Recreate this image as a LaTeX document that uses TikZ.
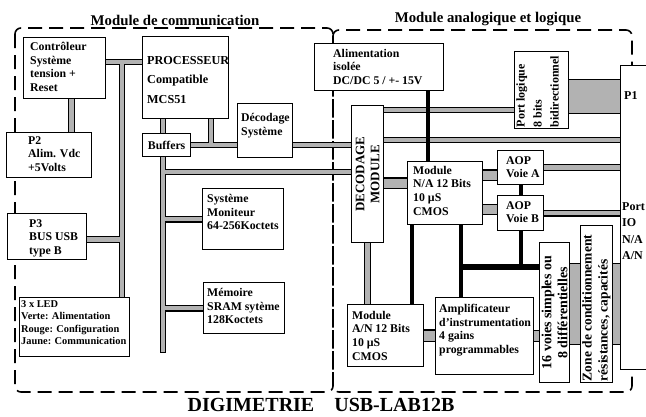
\documentclass[tikz,border=0pt]{standalone}
\usepackage{fontspec}
\setmainfont{Liberation Serif}
\usetikzlibrary{positioning,calc,backgrounds}

\newcommand{\bxfont}{\fontsize{11.8}{13.6}\selectfont\bfseries}
\newcommand{\procfont}{\fontsize{12.2}{19.5}\selectfont\bfseries}
\newcommand{\ledfont}{\fontsize{10.4}{12.5}\selectfont\bfseries}
\newcommand{\titlefont}{\fontsize{14.8}{16}\selectfont\bfseries}
\newcommand{\footfont}{\fontsize{20}{22}\selectfont\bfseries}

\begin{document}
\begin{tikzpicture}[
    x=1pt, y=-1pt,
    box/.style={draw, line width=1.3pt, fill=white, anchor=north west, inner sep=0pt, font=\bxfont},
    lbl/.style={anchor=north west, align=left, inner sep=0pt, font=\bxfont},
    txt/.style n args={3}{label={[lbl, xshift=#1, yshift=#2]north west:{#3}}},
    vtxt/.style={rotate=90, anchor=north west, align=left, inner sep=2pt},
    modframe/.style={line width=1.6pt, dash pattern=on 14pt off 7pt, rounded corners=6pt},
    bus/.style={double=gray!60, double distance=4.5pt, line width=1.2pt, line cap=rect},
    wide/.style={double=gray!60, double distance=#1, line width=1.2pt},
    pwr/.style={line width=4pt}
]
\useasboundingbox (0,0) rectangle (646,416);

% titres
\node[font=\titlefont, anchor=base] (tcom) at (175,25) {Module de communication};
\node[font=\titlefont, anchor=base] (tana) at (488,22) {Module analogique et logique};
\node[font=\footfont, anchor=base] (foot) at (321,411) {DIGIMETRIE\quad USB-LAB12B};

% module de communication
\node[box, minimum width=82pt, minimum height=61pt, txt={7pt}{-5pt}{Contrôleur\\Système\\tension +\\Reset}] (ctrl) at (23,37) {};
\node[box, minimum width=85pt, minimum height=45pt, txt={22pt}{-4pt}{P2\\Alim. Vdc\\+5Volts}] (p2) at (6,132) {};
\node[box, minimum width=86pt, minimum height=82pt,
      label={[lbl, font=\procfont, xshift=5pt, yshift=-20pt]north west:{PROCESSEUR\\Compatible\\MCS51}}] (proc) at (142,36) {};
\node[box, minimum width=48pt, minimum height=23pt] (buf) at (142,133) {Buffers};
\node[box, minimum width=55pt, minimum height=54pt, txt={4pt}{-10pt}{Décodage\\Système}] (dec) at (237,103) {};
\node[box, minimum width=81pt, minimum height=61pt, txt={5pt}{-6pt}{Système\\Moniteur\\64-256Koctets}] (mon) at (202,188) {};
\node[box, minimum width=81pt, minimum height=51pt, txt={4pt}{-6pt}{Mémoire\\SRAM sytème\\128Koctets}] (mem) at (203,282) {};
\node[box, minimum width=79pt, minimum height=46pt, txt={22pt}{-6pt}{P3\\BUS USB\\type B}] (p3) at (7,213) {};
\node[box, minimum width=110pt, minimum height=59pt,
      label={[lbl, font=\ledfont, xshift=2pt, yshift=-3pt]north west:{3 x LED\\Verte: Alimentation\\Rouge: Configuration\\Jaune: Communication}}] (led) at (19,297) {};

% module analogique et logique
\node[box, minimum width=129pt, minimum height=47pt, txt={19pt}{-6pt}{Alimentation\\isolée\\DC/DC 5 / +- 15V}] (alim) at (314,43) {};
\node[box, minimum width=54pt, minimum height=77pt,
      label={[vtxt, font=\fontsize{12}{17}\selectfont\bfseries]south west:{Port logique\\8 bits\\bidirectionnel}}] (port) at (514,51) {};
\node[box, minimum width=60pt, minimum height=304pt,
      label={[lbl, font=\fontsize{12}{16.5}\selectfont\bfseries, xshift=4pt, yshift=-26pt]north west:P1},
      label={[lbl, font=\fontsize{12}{16.5}\selectfont\bfseries, xshift=2pt, yshift=-137pt]north west:{Port\\IO\\N/A\\A/N}}] (p1) at (620,65) {};
\node[box, minimum width=32pt, minimum height=137pt,
      label={[rotate=90, align=center, inner sep=0pt, font=\fontsize{13}{15}\selectfont\bfseries]center:{DECODAGE\\MODULE}}] (decm) at (351,105) {};
\node[box, minimum width=75pt, minimum height=63pt, txt={6pt}{-5pt}{Module\\N/A 12 Bits\\10 µS\\CMOS}] (na) at (407,161) {};
\node[box, minimum width=46pt, minimum height=34pt, txt={9pt}{-6pt}{AOP\\Voie A}] (aopa) at (497,150) {};
\node[box, minimum width=46pt, minimum height=35pt, txt={9pt}{-6pt}{AOP\\Voie B}] (aopb) at (497,195) {};
\node[box, minimum width=76pt, minimum height=62pt, txt={5pt}{-7pt}{Module\\A/N 12 Bits\\10 µS\\CMOS}] (an) at (347,304) {};
\node[box, minimum width=98pt, minimum height=77pt, txt={4pt}{-7pt}{Amplificateur\\d'instrumentation\\4 gains\\programmables}] (ampli) at (435,297) {};
\node[box, minimum width=30pt, minimum height=140pt,
      label={[rotate=90, align=center, inner sep=0pt, font=\fontsize{14}{16}\selectfont\bfseries]center:{16 voies simples ou\\8 différentielles}}] (voies) at (539,242) {};
\node[box, minimum width=32pt, minimum height=157pt,
      label={[vtxt, font=\fontsize{13.5}{16}\selectfont\bfseries]south west:{Zone de conditionnement\\résistances, capacités}}] (zone) at (580,225) {};

% points des bus
\coordinate (b1) at (122,62);
\coordinate (b2) at (163,172);
\coordinate (b3) at (163,350);
\coordinate (b4) at (211,145);
\coordinate (r1) at (383,110);
\coordinate (r2) at (383,140);
\coordinate (r3) at (383,183);
\coordinate (r4) at (482,175);
\coordinate (r5) at (482,209.5);
\coordinate (k1) at (428,0);
\coordinate (k2) at (461,267);
\coordinate (k3) at (412,0);

\begin{scope}[on background layer]
\draw[modframe] (15,28) rectangle (333,392);
\draw[modframe] (333,30) rectangle (632,392);
% bus gris
\draw[bus] (ctrl.east |- b1) -- (proc.west |- b1)
           (b1) -- (b1 |- led.north)
           ([xshift=7pt]ctrl.south) -- ([xshift=7pt]ctrl.south |- p2.north)
           ([yshift=-3pt]p3.east) -- ([yshift=-3pt]p3.east -| b1)
           (proc.south -| b2) -- (buf.north -| b2)
           (buf.south -| b2) -- (b3)
           (b2) -- (decm.west |- b2)
           (mon.west) -- (mon.west -| b2)
           (mem.west) -- (mem.west -| b2)
           (buf.east |- b4) -- (dec.west |- b4)
           (proc.south -| b4) -- (b4)
           (dec.east |- b4) -- (decm.west |- b4)
           (r1) -- (port.west |- r1)
           (r2) -- (p1.west |- r2)
           (aopa.east) -- (aopa.east -| p1.west)
           (aopb.east) -- (aopb.east -| p1.west)
           (decm.south) -- (decm.south |- an.north);
\draw[wide=33pt] ([yshift=-6.5pt]port.east) -- ([yshift=-6.5pt]port.east -| p1.west);
\draw[wide=9pt] (r3) -- (na.west |- r3);
\draw[wide=9pt] (r4) -- (aopa.west |- r4);
\draw[wide=9pt] (r5) -- (aopb.west |- r5);
\draw[wide=10pt] (an.east) -- (an.east -| ampli.west);
\draw[wide=10pt] (ampli.east) -- (ampli.east -| voies.west);
\draw[wide=80pt] (voies.east |- zone.west) -- (zone.west);
\draw[wide=80pt] (zone.east) -- (zone.east -| p1.west);
% liaisons noires
\draw[pwr] (alim.south -| k1) -- (na.north -| k1)
           (aopa.south) -- (aopb.north)
           (aopb.south) -- (aopb.south |- k2)
           (na.south -| k2) -- (ampli.north -| k2)
           (na.south -| k3) -- (an.north -| k3);
\draw[line width=6.5pt] (k2) -- (voies.west |- k2);
\end{scope}
\end{tikzpicture}
\end{document}
